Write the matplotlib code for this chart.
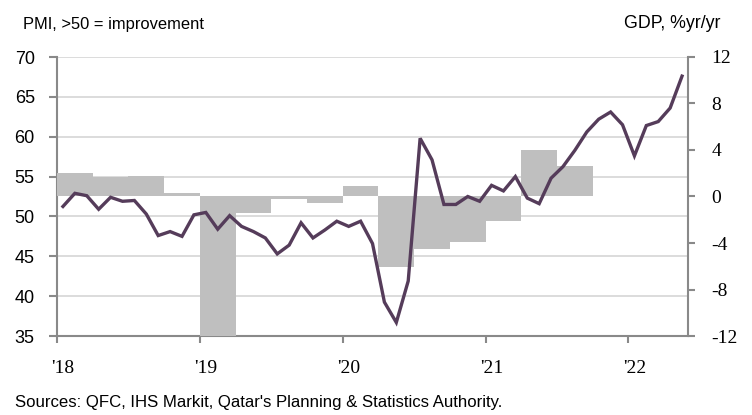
import matplotlib
matplotlib.use("Agg")
import matplotlib.pyplot as plt
import numpy as np

plt.rcParams['axes.unicode_minus'] = False

# monthly PMI, Jan 2018 - May 2022
pmi = [51.25, 52.9, 52.6, 50.9, 52.4, 51.9, 52.0, 50.3, 47.6, 48.1, 47.5, 50.2,
       50.5, 48.4, 50.1, 48.75, 48.1, 47.3, 45.3, 46.4, 49.2, 47.3, 48.3, 49.4,
       48.75, 49.4, 46.6, 39.25, 36.7, 41.9, 59.8, 57.1, 51.5, 51.5, 52.5, 51.9,
       53.9, 53.2, 55.0, 52.3, 51.6, 54.8, 56.25, 58.3, 60.6, 62.2, 63.1, 61.5,
       57.6, 61.4, 61.9, 63.6, 67.6]
# quarterly GDP growth, Q1 2018 - Q3 2021
gdp = [2.0, 1.7, 1.8, 0.3, -13.0, -1.4, -0.2, -0.6, 0.9, -6.1, -4.5, -3.9,
       -2.1, 4.0, 2.6]
years = ["'18", "'19", "'20", "'21", "'22"]

months = np.arange(len(pmi)) + 0.5
quarters = np.arange(len(gdp)) * 3

axis_col = '#898989'
fig = plt.figure(figsize=(7.52, 4.15), dpi=100)
ax = fig.add_axes([57/752, 79/415, 631/752, 279/415])
ax2 = ax.twinx()

ax.set_ylim(35, 70)
ax.set_yticks(np.arange(35, 71, 5))
ax.grid(axis='y', color='#d9d9d9', linewidth=1.3)
ax.set_axisbelow(True)

ax2.set_ylim(-12, 12)
ax2.set_yticks(np.arange(-12, 13, 4))
ax2.bar(quarters, gdp, width=3, align='edge', color='#bfbfbf', zorder=1)
ax2.plot(months, pmi, color='#553c5a', linewidth=2.4, zorder=3,
         transform=ax.transData, solid_joinstyle='miter')

ax.set_xlim(0, len(pmi))
ax.set_xticks([0, 12, 24, 36, 48])
ax.set_xticklabels([])
ax.set_xticks([0.5, 12.5, 24.5, 36.5, 48.5], minor=True)
ax.set_xticklabels(years, minor=True, family='Liberation Serif', fontsize=14)
ax.tick_params(axis='x', which='minor', length=0, pad=17)
ax.tick_params(axis='x', which='major', length=5, width=1.5, color=axis_col)

ax.tick_params(axis='y', length=6, width=1.5, color=axis_col, pad=10, labelsize=13)
for t in ax.get_yticklabels():
    t.set_family('Liberation Sans')
ax2.tick_params(axis='y', length=5, width=1.5, color=axis_col, pad=12, labelsize=14)
for t in ax2.get_yticklabels():
    t.set_family('Liberation Serif')

for a in (ax, ax2):
    for s in a.spines.values():
        s.set_color(axis_col)
        s.set_linewidth(1.5)
    a.spines['top'].set_visible(False)
ax.spines['right'].set_visible(False)
ax2.spines['left'].set_visible(False)
ax2.spines['bottom'].set_visible(False)

fig.text(23/752, 1 - 25/415, 'PMI, >50 = improvement', fontsize=11.9,
         family='Liberation Sans', va='center', ha='left')
fig.text(721/752, 1 - 23/415, 'GDP, %yr/yr', fontsize=12.8,
         family='Liberation Sans', va='center', ha='right')
fig.text(15/752, 1 - 402/415,
         "Sources: QFC, IHS Markit, Qatar's Planning & Statistics Authority.",
         fontsize=12.1, family='Liberation Sans', va='center', ha='left')

fig.savefig('out.png', dpi=100)
